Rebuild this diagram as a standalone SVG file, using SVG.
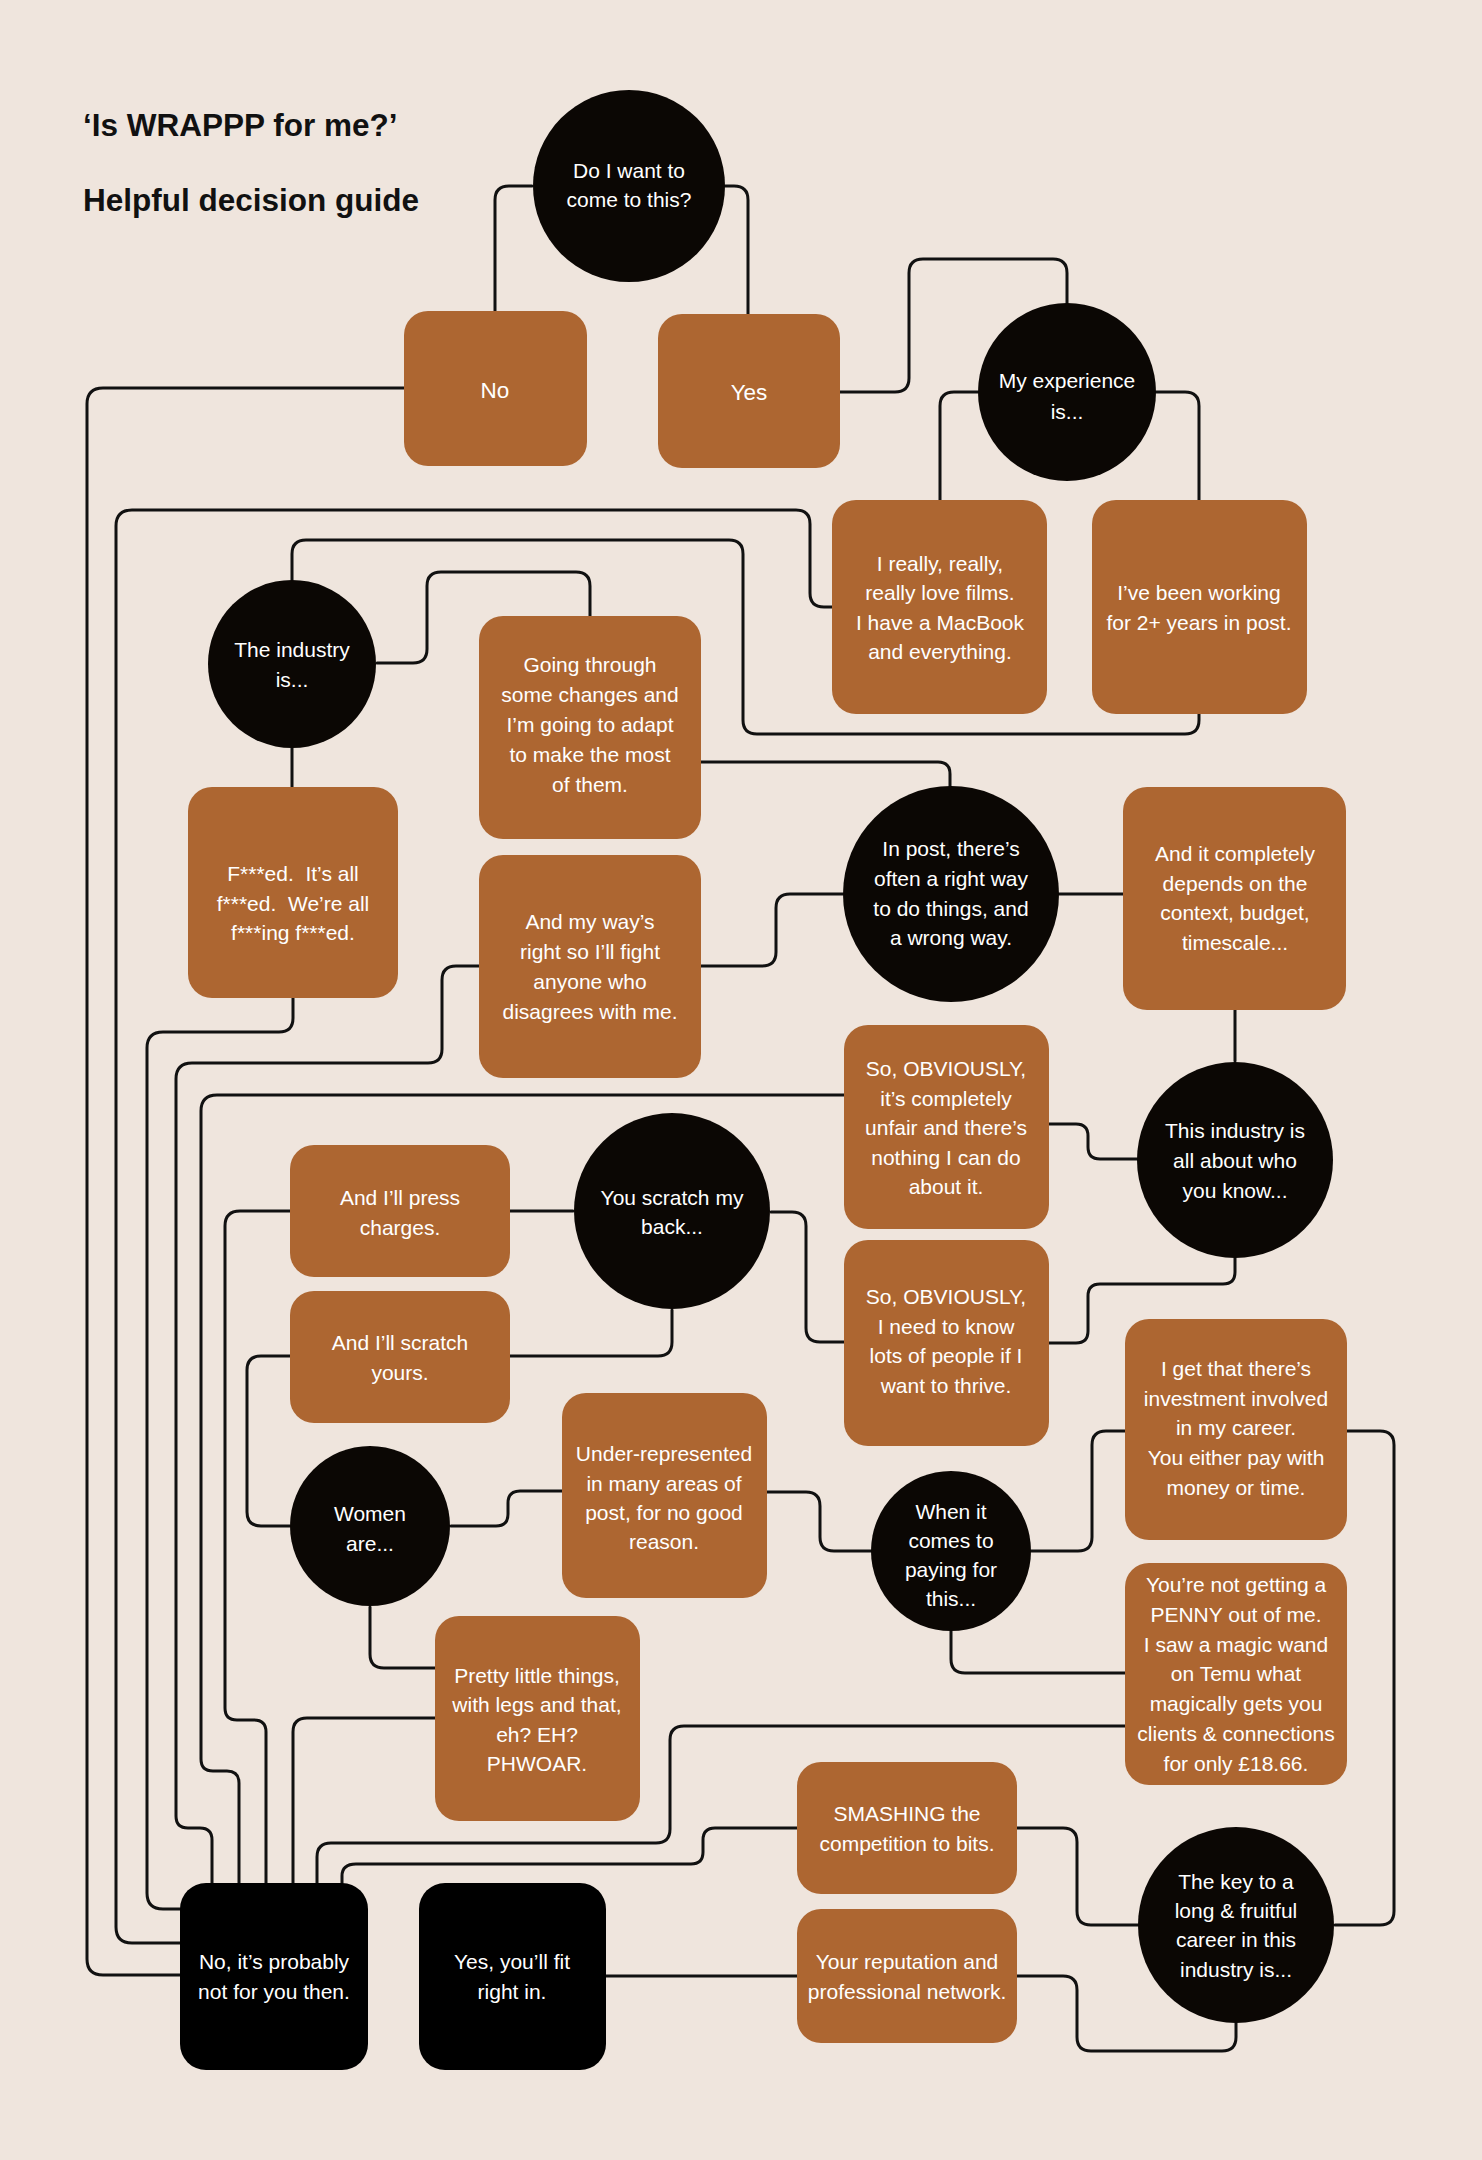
<svg xmlns="http://www.w3.org/2000/svg" width="1482" height="2160" viewBox="0 0 1482 2160">
<style>
.bg{fill:#EFE5DD}
.box{fill:#AD6631}
.dark{fill:#0B0704}
.blk{fill:#000}
.conn path{fill:none;stroke:#111;stroke-width:3;stroke-linecap:round;stroke-linejoin:round}
.t{font-family:"Liberation Sans",Arial,sans-serif;font-size:21px;fill:#fff;text-anchor:middle}
.big{font-size:22.5px}
.title{font-family:"Liberation Sans",Arial,sans-serif;font-size:31.5px;font-weight:bold;fill:#111}
</style>
<rect class="bg" x="0" y="0" width="1482" height="2160"/>
<g id="title">
<text class="title" x="83" y="136">‘Is WRAPPP for me?’</text>
<text class="title" x="83" y="211">Helpful decision guide</text>
</g>
<g class="conn" id="connectors">
<path d="M532,186 H509 Q495,186 495,200 V311"/>
<path d="M725,186 H734 Q748,186 748,200 V314"/>
<path d="M840,392 H895 Q909,392 909,378 V273 Q909,259 923,259 H1053 Q1067,259 1067,273 V303"/>
<path d="M978,392 H954 Q940,392 940,406 V500"/>
<path d="M1156,392 H1185 Q1199,392 1199,406 V500"/>
<path d="M1199,714 V720 Q1199,734 1185,734 H757 Q743,734 743,720 V554 Q743,540 729,540 H306 Q292,540 292,554 V580"/>
<path d="M832,607 H824 Q810,607 810,593 V524 Q810,510 796,510 H132 Q116,510 116,526 V1927 Q116,1943 132,1943 H180"/>
<path d="M404,388 H103 Q87,388 87,404 V1959 Q87,1975 103,1975 H180"/>
<path d="M292,748 V787"/>
<path d="M377,663 H413 Q427,663 427,649 V586 Q427,572 441,572 H576 Q590,572 590,586 V616"/>
<path d="M293,998 V1018 Q293,1032 279,1032 H163 Q147,1032 147,1048 V1893 Q147,1909 163,1909 H180"/>
<path d="M701,762 H938 Q950,762 950,774 V787"/>
<path d="M843,894 H790 Q776,894 776,908 V952 Q776,966 762,966 H701"/>
<path d="M1059,894 H1123"/>
<path d="M479,966 H456 Q442,966 442,980 V1049 Q442,1063 428,1063 H192 Q176,1063 176,1079 V1816 Q176,1828 188,1828 H200 Q212,1828 212,1840 V1883"/>
<path d="M1235,1010 V1061"/>
<path d="M1137,1159 H1100 Q1088,1159 1088,1147 V1136 Q1088,1124 1076,1124 H1049"/>
<path d="M1235,1258 V1272 Q1235,1284 1223,1284 H1100 Q1088,1284 1088,1296 V1331 Q1088,1343 1076,1343 H1049"/>
<path d="M844,1095 H217 Q201,1095 201,1111 V1759 Q201,1771 213,1771 H227 Q239,1771 239,1783 V1883"/>
<path d="M844,1342 H820 Q806,1342 806,1328 V1226 Q806,1212 792,1212 H771"/>
<path d="M573,1211 H510"/>
<path d="M290,1211 H240 Q225,1211 225,1226 V1708 Q225,1720 237,1720 H254 Q266,1720 266,1732 V1883"/>
<path d="M672,1310 V1342 Q672,1356 658,1356 H510"/>
<path d="M290,1356 H261 Q247,1356 247,1370 V1512 Q247,1526 261,1526 H290"/>
<path d="M451,1526 H496 Q508,1526 508,1514 V1503 Q508,1491 520,1491 H562"/>
<path d="M370,1607 V1654 Q370,1668 384,1668 H435"/>
<path d="M435,1718 H307 Q293,1718 293,1732 V1883"/>
<path d="M767,1492 H806 Q820,1492 820,1506 V1537 Q820,1551 834,1551 H872"/>
<path d="M1031,1551 H1078 Q1092,1551 1092,1537 V1445 Q1092,1431 1106,1431 H1125"/>
<path d="M951,1631 V1659 Q951,1673 965,1673 H1125"/>
<path d="M1125,1726 H684 Q670,1726 670,1740 V1829 Q670,1843 656,1843 H331 Q317,1843 317,1857 V1883"/>
<path d="M1347,1431 H1380 Q1394,1431 1394,1445 V1911 Q1394,1925 1380,1925 H1335"/>
<path d="M1138,1925 H1091 Q1077,1925 1077,1911 V1842 Q1077,1828 1063,1828 H1017"/>
<path d="M1236,2023 V2037 Q1236,2051 1222,2051 H1091 Q1077,2051 1077,2037 V1990 Q1077,1976 1063,1976 H1017"/>
<path d="M797,1828 H715 Q703,1828 703,1840 V1852 Q703,1864 691,1864 H356 Q342,1864 342,1876 V1883"/>
<path d="M797,1976 H606"/>
</g>
<g id="n-start"><circle class="dark" cx="629" cy="186" r="96"/><text class="t"><tspan x="629" y="178">Do I want to</tspan><tspan x="629" y="207">come to this?</tspan></text></g>
<g id="n-no"><rect class="box" x="404" y="311" width="183" height="155" rx="24"/><text class="t big" x="495" y="398">No</text></g>
<g id="n-yes"><rect class="box" x="658" y="314" width="182" height="154" rx="24"/><text class="t big" x="749" y="400">Yes</text></g>
<g id="n-experience"><circle class="dark" cx="1067" cy="392" r="89"/><text class="t"><tspan x="1067" y="388">My experience</tspan><tspan x="1067" y="419">is...</tspan></text></g>
<g id="n-films"><rect class="box" x="832" y="500" width="215" height="214" rx="24"/><text class="t"><tspan x="940" y="571">I really, really,</tspan><tspan x="940" y="600">really love films.</tspan><tspan x="940" y="630">I have a MacBook</tspan><tspan x="940" y="659">and everything.</tspan></text></g>
<g id="n-working"><rect class="box" x="1092" y="500" width="215" height="214" rx="24"/><text class="t"><tspan x="1199" y="600">I’ve been working</tspan><tspan x="1199" y="630">for 2+ years in post.</tspan></text></g>
<g id="n-industry"><circle class="dark" cx="292" cy="664" r="84"/><text class="t"><tspan x="292" y="657">The industry</tspan><tspan x="292" y="687">is...</tspan></text></g>
<g id="n-changes"><rect class="box" x="479" y="616" width="222" height="223" rx="24"/><text class="t"><tspan x="590" y="672">Going through</tspan><tspan x="590" y="702">some changes and</tspan><tspan x="590" y="732">I’m going to adapt</tspan><tspan x="590" y="762">to make the most</tspan><tspan x="590" y="792">of them.</tspan></text></g>
<g id="n-fed"><rect class="box" x="188" y="787" width="210" height="211" rx="24"/><text class="t"><tspan x="293" y="881">F***ed.&#160; It’s all</tspan><tspan x="293" y="911">f***ed.&#160; We’re all</tspan><tspan x="293" y="940">f***ing f***ed.</tspan></text></g>
<g id="n-myway"><rect class="box" x="479" y="855" width="222" height="223" rx="24"/><text class="t"><tspan x="590" y="929">And my way’s</tspan><tspan x="590" y="959">right so I’ll fight</tspan><tspan x="590" y="989">anyone who</tspan><tspan x="590" y="1019">disagrees with me.</tspan></text></g>
<g id="n-inpost"><circle class="dark" cx="951" cy="894" r="108"/><text class="t"><tspan x="951" y="856">In post, there’s</tspan><tspan x="951" y="886">often a right way</tspan><tspan x="951" y="916">to do things, and</tspan><tspan x="951" y="945">a wrong way.</tspan></text></g>
<g id="n-depends"><rect class="box" x="1123" y="787" width="223" height="223" rx="24"/><text class="t"><tspan x="1235" y="861">And it completely</tspan><tspan x="1235" y="891">depends on the</tspan><tspan x="1235" y="920">context, budget,</tspan><tspan x="1235" y="950">timescale...</tspan></text></g>
<g id="n-whoyouknow"><circle class="dark" cx="1235" cy="1160" r="98"/><text class="t"><tspan x="1235" y="1138">This industry is</tspan><tspan x="1235" y="1168">all about who</tspan><tspan x="1235" y="1198">you know...</tspan></text></g>
<g id="n-unfair"><rect class="box" x="844" y="1025" width="205" height="204" rx="24"/><text class="t"><tspan x="946" y="1076">So, OBVIOUSLY,</tspan><tspan x="946" y="1106">it’s completely</tspan><tspan x="946" y="1135">unfair and there’s</tspan><tspan x="946" y="1165">nothing I can do</tspan><tspan x="946" y="1194">about it.</tspan></text></g>
<g id="n-needtoknow"><rect class="box" x="844" y="1240" width="205" height="206" rx="24"/><text class="t"><tspan x="946" y="1304">So, OBVIOUSLY,</tspan><tspan x="946" y="1334">I need to know</tspan><tspan x="946" y="1363">lots of people if I</tspan><tspan x="946" y="1393">want to thrive.</tspan></text></g>
<g id="n-scratch"><circle class="dark" cx="672" cy="1211" r="98"/><text class="t"><tspan x="672" y="1205">You scratch my</tspan><tspan x="672" y="1234">back...</tspan></text></g>
<g id="n-press"><rect class="box" x="290" y="1145" width="220" height="132" rx="24"/><text class="t"><tspan x="400" y="1205">And I’ll press</tspan><tspan x="400" y="1235">charges.</tspan></text></g>
<g id="n-scratchyours"><rect class="box" x="290" y="1291" width="220" height="132" rx="24"/><text class="t"><tspan x="400" y="1350">And I’ll scratch</tspan><tspan x="400" y="1380">yours.</tspan></text></g>
<g id="n-women"><circle class="dark" cx="370" cy="1526" r="80"/><text class="t"><tspan x="370" y="1521">Women</tspan><tspan x="370" y="1551">are...</tspan></text></g>
<g id="n-underrep"><rect class="box" x="562" y="1393" width="205" height="205" rx="24"/><text class="t"><tspan x="664" y="1461">Under-represented</tspan><tspan x="664" y="1491">in many areas of</tspan><tspan x="664" y="1520">post, for no good</tspan><tspan x="664" y="1549">reason.</tspan></text></g>
<g id="n-paying"><circle class="dark" cx="951" cy="1551" r="80"/><text class="t"><tspan x="951" y="1519">When it</tspan><tspan x="951" y="1548">comes to</tspan><tspan x="951" y="1577">paying for</tspan><tspan x="951" y="1606">this...</tspan></text></g>
<g id="n-investment"><rect class="box" x="1125" y="1319" width="222" height="221" rx="24"/><text class="t"><tspan x="1236" y="1376">I get that there’s</tspan><tspan x="1236" y="1406">investment involved</tspan><tspan x="1236" y="1435">in my career.</tspan><tspan x="1236" y="1465">You either pay with</tspan><tspan x="1236" y="1495">money or time.</tspan></text></g>
<g id="n-penny"><rect class="box" x="1125" y="1563" width="222" height="222" rx="24"/><text class="t"><tspan x="1236" y="1592">You’re not getting a</tspan><tspan x="1236" y="1622">PENNY out of me.</tspan><tspan x="1236" y="1652">I saw a magic wand</tspan><tspan x="1236" y="1681">on Temu what</tspan><tspan x="1236" y="1711">magically gets you</tspan><tspan x="1236" y="1741">clients &amp; connections</tspan><tspan x="1236" y="1771">for only £18.66.</tspan></text></g>
<g id="n-pretty"><rect class="box" x="435" y="1616" width="205" height="205" rx="24"/><text class="t"><tspan x="537" y="1683">Pretty little things,</tspan><tspan x="537" y="1712">with legs and that,</tspan><tspan x="537" y="1742">eh? EH?</tspan><tspan x="537" y="1771">PHWOAR.</tspan></text></g>
<g id="n-smashing"><rect class="box" x="797" y="1762" width="220" height="132" rx="24"/><text class="t"><tspan x="907" y="1821">SMASHING the</tspan><tspan x="907" y="1851">competition to bits.</tspan></text></g>
<g id="n-reputation"><rect class="box" x="797" y="1909" width="220" height="134" rx="24"/><text class="t"><tspan x="907" y="1969">Your reputation and</tspan><tspan x="907" y="1999">professional network.</tspan></text></g>
<g id="n-key"><circle class="dark" cx="1236" cy="1925" r="98"/><text class="t"><tspan x="1236" y="1889">The key to a</tspan><tspan x="1236" y="1918">long &amp; fruitful</tspan><tspan x="1236" y="1947">career in this</tspan><tspan x="1236" y="1977">industry is...</tspan></text></g>
<g id="n-notforyou"><rect class="blk" x="180" y="1883" width="188" height="187" rx="26"/><text class="t"><tspan x="274" y="1969">No, it’s probably</tspan><tspan x="274" y="1999">not for you then.</tspan></text></g>
<g id="n-fitin"><rect class="blk" x="419" y="1883" width="187" height="187" rx="26"/><text class="t"><tspan x="512" y="1969">Yes, you’ll fit</tspan><tspan x="512" y="1999">right in.</tspan></text></g>
</svg>
